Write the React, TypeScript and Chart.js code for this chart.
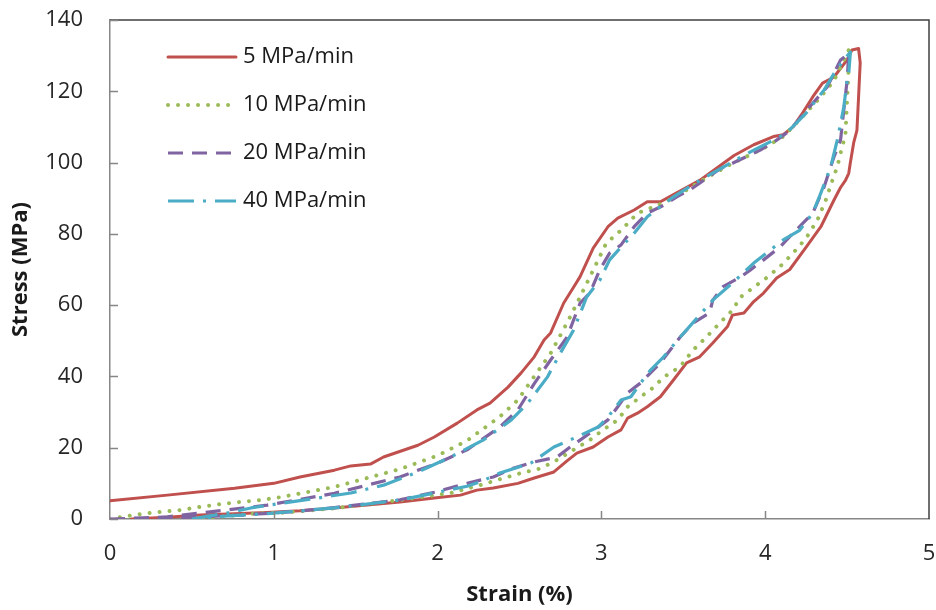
import React, { useEffect, useRef } from "react";
import { Chart, registerables } from "chart.js";

Chart.register(...registerables);

// ---- data (strain %, stress MPa) : loading branch then unloading branch ----
const seriesLabels = ["5 MPa/min", "10 MPa/min", "20 MPa/min", "40 MPa/min"];
const xTickValues = [0, 1, 2, 3, 4, 5];
const yTickValues = [0, 20, 40, 60, 80, 100, 120, 140];

const loop5: [number, number][] = [
  [0, 5.1], [0.35, 6.7], [0.76, 8.6], [1.0, 10], [1.16, 11.8], [1.37, 13.7], [1.47, 14.9], [1.59, 15.4],
  [1.67, 17.4], [1.88, 20.7], [1.98, 23], [2.12, 26.9], [2.24, 30.6], [2.32, 32.5], [2.43, 37], [2.51, 41],
  [2.59, 45.5], [2.65, 50.2], [2.69, 52.2], [2.77, 60.6], [2.83, 65], [2.87, 68], [2.95, 76], [3.04, 82],
  [3.1, 84.4], [3.2, 86.7], [3.28, 89], [3.36, 89], [3.44, 91], [3.6, 95], [3.81, 102], [3.93, 105],
  [4.05, 107.3], [4.11, 107.8], [4.17, 110], [4.23, 114], [4.29, 118.4], [4.35, 122.3], [4.42, 124],
  [4.5, 128.8], [4.53, 131.6], [4.57, 132],
  [4.58, 128], [4.57, 118.4], [4.56, 109], [4.54, 105.5], [4.52, 100], [4.51, 97], [4.49, 95], [4.46, 93],
  [4.42, 89.5], [4.34, 82], [4.25, 76.3], [4.15, 70], [4.07, 67.6], [3.99, 63.4], [3.93, 61], [3.87, 57.8],
  [3.8, 57.2], [3.77, 54], [3.68, 49.4], [3.6, 45.5], [3.52, 43.8], [3.44, 39], [3.36, 34.3], [3.28, 31.5],
  [3.22, 29.7], [3.16, 28.3], [3.12, 25], [3.04, 23], [2.95, 20.2], [2.85, 18.5], [2.79, 16.3], [2.71, 13.2],
  [2.59, 11.5], [2.49, 10], [2.34, 8.7], [2.24, 8.1], [2.14, 6.7], [1.98, 5.9], [1.77, 4.8], [1.57, 3.9],
  [1.37, 3.1], [1.16, 2.3], [0.96, 1.8], [0.76, 1.5], [0.55, 1.1], [0.35, 0.5], [0.13, 0],
];

const loop10: [number, number][] = [
  [0, 0], [0.07, 0.6], [0.19, 1.4], [0.31, 2], [0.43, 2.5], [0.55, 3.4], [0.68, 4.2], [0.8, 4.8], [0.92, 5.3],
  [1.05, 6.2], [1.37, 9], [1.77, 14], [2.0, 17.8], [2.18, 22], [2.38, 28.7], [2.49, 33.4], [2.59, 40],
  [2.69, 46.5], [2.79, 55], [2.87, 62.3], [2.97, 71.7], [3.03, 77.4], [3.12, 81], [3.22, 85.8], [3.32, 87.6],
  [3.44, 90], [3.6, 94.6], [3.8, 99.8], [3.99, 104], [4.11, 107.3], [4.21, 112], [4.34, 118.5], [4.42, 123],
  [4.52, 132.5],
  [4.51, 127], [4.5, 117.6], [4.49, 108], [4.46, 102.6], [4.44, 98.8], [4.41, 95], [4.37, 89.5], [4.32, 84],
  [4.25, 78.8], [4.17, 74.6], [4.09, 70.8], [3.99, 67], [3.93, 65], [3.85, 62.3], [3.8, 58.6], [3.74, 55.8],
  [3.64, 51], [3.56, 47.4], [3.48, 42.7], [3.38, 39.8], [3.32, 37], [3.24, 34.3], [3.16, 31.5], [3.1, 27.8],
  [3.01, 25], [2.93, 22.2], [2.83, 19.4], [2.73, 16.6], [2.63, 14.2], [2.51, 12.9], [2.37, 11], [2.26, 9.5],
  [2.08, 7.3], [1.77, 5.3], [1.37, 3], [1.04, 1.7], [0.9, 1.6], [0.66, 0.6], [0.53, 0],
];

const loop20: [number, number][] = [
  [0, 0], [0.2, 0.3], [0.35, 0.6], [0.55, 1.7], [0.72, 2.6], [0.96, 3.9], [1.37, 7.2], [1.77, 11.8],
  [2.0, 15.7], [2.18, 19.4], [2.38, 25.8], [2.49, 30.6], [2.59, 38], [2.69, 44.6], [2.79, 51], [2.87, 60.6],
  [2.93, 63.4], [2.99, 69.9], [3.05, 74.6], [3.12, 76.9], [3.2, 82], [3.28, 85.8], [3.38, 88], [3.46, 90.4],
  [3.54, 92.3], [3.73, 98.4], [3.8, 99.8], [3.97, 103.5], [4.07, 106.3], [4.15, 109], [4.27, 115.6],
  [4.38, 121.3], [4.46, 128.8], [4.51, 130.6],
  [4.5, 123], [4.48, 114.8], [4.46, 106.3], [4.42, 101.6], [4.4, 98.8], [4.36, 93.2], [4.29, 85.8],
  [4.25, 83.9], [4.17, 80.2], [4.09, 76.3], [3.99, 72.7], [3.91, 69.9], [3.85, 67.9], [3.74, 65.1],
  [3.68, 61.4], [3.66, 57.8], [3.56, 55], [3.48, 51], [3.42, 47.4], [3.36, 43.8], [3.3, 41], [3.24, 38.2],
  [3.16, 35.4], [3.1, 31.5], [3.04, 27.8], [2.93, 24.1], [2.81, 20.2], [2.73, 17.4], [2.59, 16], [2.46, 14.2],
  [2.34, 11.8], [2.18, 10], [1.98, 7.5], [1.77, 5.4], [1.37, 3.2], [1.1, 2], [0.8, 1.1], [0.43, 0.4], [0.2, 0],
];

const loop40: [number, number][] = [
  [0.5, 0], [0.6, 0.8], [0.72, 1.7], [0.86, 3.1], [1.06, 4.5], [1.27, 5.9], [1.47, 7.3], [1.67, 9.5],
  [1.88, 13.2], [2.08, 17.4], [2.28, 22.2], [2.45, 27.8], [2.55, 32.5], [2.67, 39.8], [2.75, 46.6],
  [2.83, 53], [2.91, 62.3], [2.99, 67], [3.05, 72.7], [3.12, 76.3], [3.2, 80.2], [3.28, 84.8], [3.36, 87.6],
  [3.44, 90.4], [3.6, 95], [3.8, 100.2], [3.93, 103.5], [4.03, 105.8], [4.13, 108.3], [4.25, 113.9],
  [4.36, 120.4], [4.42, 125], [4.48, 128.8], [4.52, 131],
  [4.51, 125], [4.5, 123], [4.48, 115.6], [4.44, 106.3], [4.4, 98.8], [4.34, 91.5], [4.29, 85.8], [4.21, 81],
  [4.11, 78.3], [3.93, 71.8], [3.8, 66.2], [3.68, 61.4], [3.6, 57.2], [3.48, 51], [3.38, 45.5], [3.3, 41.8],
  [3.24, 38.2], [3.18, 34.3], [3.12, 33.4], [3.04, 28.6], [2.98, 25.8], [2.85, 23], [2.71, 20.2],
  [2.57, 15.7], [2.38, 12.9], [2.26, 10.4], [2.18, 9.2], [1.98, 7.3], [1.77, 5.3], [1.37, 3.1], [0.96, 1.5],
  [0.72, 0.9], [0.5, 0],
];

const loops = [loop5, loop10, loop20, loop40];
const colors = ["#C0504D", "#9BBB59", "#8064A2", "#4BACC6"];
const dashes = [[], [0.01, 10], [15, 9], [26, 9, 3, 9]];
const caps = ["round", "round", "butt", "butt"];
const widths = [3, 4, 3.2, 3.2];

const FONT = '"Open Sans", "Noto Sans", sans-serif';

const framePlugin = {
  id: "frameAndLegend",
  afterDraw(chart: any) {
    const { ctx, chartArea } = chart;
    const { left, right, top, bottom } = chartArea;
    const xs = chart.scales.x;
    const ys = chart.scales.y;
    ctx.save();
    // plot frame (top & right)
    ctx.strokeStyle = "#404040";
    ctx.lineWidth = 1.5;
    ctx.beginPath();
    ctx.moveTo(left, top);
    ctx.lineTo(right, top);
    ctx.lineTo(right, bottom);
    ctx.stroke();
    // inward tick marks
    ctx.strokeStyle = "#868686";
    ctx.lineWidth = 1.5;
    ctx.beginPath();
    yTickValues.forEach((v) => {
      const py = Math.round(ys.getPixelForValue(v)) + 0.5;
      ctx.moveTo(left, py);
      ctx.lineTo(left + 8, py);
    });
    xTickValues.slice(1, -1).forEach((v) => {
      const px = Math.round(xs.getPixelForValue(v)) + 0.5;
      ctx.moveTo(px, bottom);
      ctx.lineTo(px, bottom - 8);
    });
    ctx.stroke();
    // legend inside plot
    chart.data.datasets.forEach((ds: any, i: number) => {
      const y = top + 37 + i * 48;
      ctx.save();
      ctx.strokeStyle = ds.borderColor;
      ctx.lineWidth = ds.borderWidth;
      ctx.lineCap = ds.borderCapStyle;
      ctx.setLineDash(ds.borderDash || []);
      ctx.beginPath();
      ctx.moveTo(left + 58, y);
      ctx.lineTo(left + 126, y);
      ctx.stroke();
      ctx.restore();
      ctx.fillStyle = "#1a1a1a";
      ctx.font = `22px ${FONT}`;
      ctx.textBaseline = "middle";
      ctx.textAlign = "left";
      ctx.fillText(ds.label, left + 133, y);
    });
    ctx.restore();
  },
};

export default function App() {
  const canvasRef = useRef<HTMLCanvasElement | null>(null);

  useEffect(() => {
    if (!canvasRef.current) return;
    const datasets = loops.map((loop, i) => ({
      label: seriesLabels[i],
      data: loop.map(([x, y]) => ({ x, y })),
      showLine: true,
      borderColor: colors[i],
      backgroundColor: colors[i],
      borderWidth: widths[i],
      borderDash: dashes[i],
      borderCapStyle: caps[i],
      borderJoinStyle: "round",
      pointRadius: 0,
      tension: 0,
      fill: false,
      order: 4 - i,
    }));

    const chart = new Chart(canvasRef.current, {
      type: "scatter",
      data: { datasets },
      options: {
        responsive: false,
        animation: false,
        layout: { padding: { left: 0, top: 20, right: 7, bottom: 0 } },
        plugins: {
          legend: { display: false },
          tooltip: { enabled: false },
        },
        scales: {
          x: {
            type: "linear",
            min: 0,
            max: 5,
            afterFit: (s: any) => {
              s.height = 91;
            },
            afterBuildTicks: (s: any) => {
              s.ticks = xTickValues.map((v) => ({ value: v }));
            },
            ticks: {
              color: "#262626",
              font: { family: FONT, size: 22 },
              padding: 0,
              maxRotation: 0,
              callback: (v: any) => String(v),
            },
            grid: { display: false, drawTicks: true, tickLength: 22 },
            border: { display: true, color: "#868686", width: 1.5 },
            title: {
              display: true,
              text: "Strain (%)",
              color: "#1a1a1a",
              font: { family: FONT, size: 22, weight: "bold" },
              padding: { top: 0, bottom: 2 },
            },
          },
          y: {
            type: "linear",
            min: 0,
            max: 140,
            afterFit: (s: any) => {
              s.width = 110;
            },
            afterBuildTicks: (s: any) => {
              s.ticks = yTickValues.map((v) => ({ value: v }));
            },
            ticks: {
              color: "#262626",
              font: { family: FONT, size: 22 },
              padding: 3,
              callback: (v: any) => String(v),
            },
            grid: { display: false, drawTicks: true, tickLength: 24 },
            border: { display: true, color: "#868686", width: 1.5 },
            title: {
              display: true,
              text: "Stress (MPa)",
              color: "#1a1a1a",
              font: { family: FONT, size: 22, weight: "bold" },
              padding: { top: 8, bottom: 0 },
            },
          },
        },
      },
      plugins: [framePlugin],
    } as any);

    return () => chart.destroy();
  }, []);

  return (
    <div style={{ position: "absolute", left: 0, top: 0, width: 936, height: 610, background: "#fff" }}>
      <canvas ref={canvasRef} width={936} height={610} style={{ display: "block" }} />
    </div>
  );
}
